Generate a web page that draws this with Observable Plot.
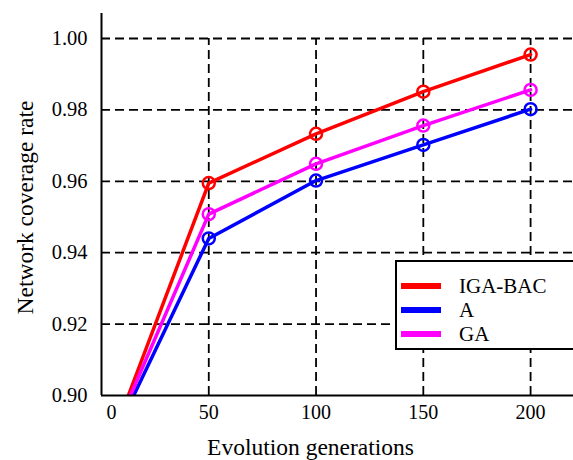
<!DOCTYPE html>
<html>
<head>
<meta charset="utf-8">
<script src="https://cdn.jsdelivr.net/npm/d3@7"></script>
<script src="https://cdn.jsdelivr.net/npm/@observablehq/plot@0.6"></script>
<style>
  html, body { margin: 0; padding: 0; background: #fff; }
  #wrap { position: relative; width: 573px; height: 460px; overflow: hidden; font-family: 'Liberation Serif'; }
  #wrap svg, #wrap svg text { font-family: 'Liberation Serif' !important; }
  #legend { position: absolute; left: 395px; top: 260px; width: 200px; height: 90px; background: #fff; border: 2px solid #000; box-sizing: border-box; font-family: 'Liberation Serif'; }
  .item { position: absolute; left: 4px; height: 24px; display: flex; align-items: center; font-size: 21px; color: #000; }
  .sw { width: 40px; height: 6px; margin-right: 18px; }
</style>
</head>
<body>
<div id="wrap"></div>
<script>
const series = ["IGA-BAC", "A", "GA"];
const colors = ["#ff0000", "#0000ff", "#ff00ff"];
const generations = [50, 100, 150, 200];
const igaBac = [0.9595, 0.9733, 0.9851, 0.9955];
const aVals = [0.9440, 0.9602, 0.9702, 0.9802];
const gaVals = [0.9508, 0.9649, 0.9756, 0.9856];
const startGen = [12.5, 15, 13.5];
const startVal = [0.90, 0.90, 0.90];
const xTicks = [0, 50, 100, 150, 200];
const yTicks = [0.90, 0.92, 0.94, 0.96, 0.98, 1.00];

const valueSets = [igaBac, aVals, gaVals];
const lineRows = [];
const dotRows = [];
series.forEach((s, i) => {
  lineRows.push({series: s, gen: startGen[i], val: startVal[i]});
  generations.forEach((g, j) => {
    lineRows.push({series: s, gen: g, val: valueSets[i][j]});
    dotRows.push({series: s, gen: g, val: valueSets[i][j]});
  });
});

const fontFam = "Liberation Serif";
const chart = Plot.plot({
  width: 573,
  height: 460,
  marginLeft: 101,
  marginRight: 0,
  marginTop: 13,
  marginBottom: 65,
  style: {fontFamily: fontFam, fontSize: "20px", background: "#fff", color: "#000"},
  x: {domain: [0, 220]},
  y: {domain: [0.90, 1.007]},
  color: {domain: series, range: colors},
  marks: [
    Plot.ruleY(yTicks.slice(1), {y: d => d, stroke: "#000", strokeWidth: 1.8, strokeDasharray: "9,5"}),
    Plot.ruleX(xTicks.slice(1), {x: d => d, y1: 0.90, y2: 1.00, stroke: "#000", strokeWidth: 1.8, strokeDasharray: "9,5"}),
    Plot.line(lineRows, {x: "gen", y: "val", z: "series", stroke: "series", strokeWidth: 3.5, clip: true}),
    Plot.dot(dotRows, {x: "gen", y: "val", stroke: "series", r: 6, strokeWidth: 2.5, fill: "none"}),
    Plot.ruleX([0], {stroke: "#000", strokeWidth: 2}),
    Plot.ruleY([0.90], {stroke: "#000", strokeWidth: 2}),
    Plot.axisY(yTicks, {tickSize: 0, tickPadding: 14, tickFormat: d3.format(".2f"), fontSize: 20.5, fontFamily: fontFam, label: null}),
    Plot.axisX(xTicks.slice(1), {tickSize: 0, tickPadding: 9, fontSize: 20, fontFamily: fontFam, label: null}),
    Plot.axisX([0], {tickSize: 0, tickPadding: 9, dx: 10, fontSize: 20, fontFamily: fontFam, label: null}),
    Plot.text(["Evolution generations"], {frameAnchor: "bottom", lineAnchor: "middle", dy: 52, dx: -27, fontSize: 23.5, fontFamily: fontFam, text: d => d}),
    Plot.text(["Network coverage rate"], {frameAnchor: "left", textAnchor: "middle", dx: -76, dy: 3, rotate: -90, fontSize: 23.5, fontFamily: fontFam, text: d => d})
  ]
});
const wrap = document.getElementById("wrap");
wrap.appendChild(chart);

const legend = document.createElement("div");
legend.id = "legend";
series.forEach((s, i) => {
  const item = document.createElement("div");
  item.className = "item";
  item.style.top = (12 + i * 24) + "px";
  const sw = document.createElement("span");
  sw.className = "sw";
  sw.style.background = colors[i];
  const t = document.createElement("span");
  t.textContent = s;
  item.appendChild(sw);
  item.appendChild(t);
  legend.appendChild(item);
});
wrap.appendChild(legend);
</script>
</body>
</html>
